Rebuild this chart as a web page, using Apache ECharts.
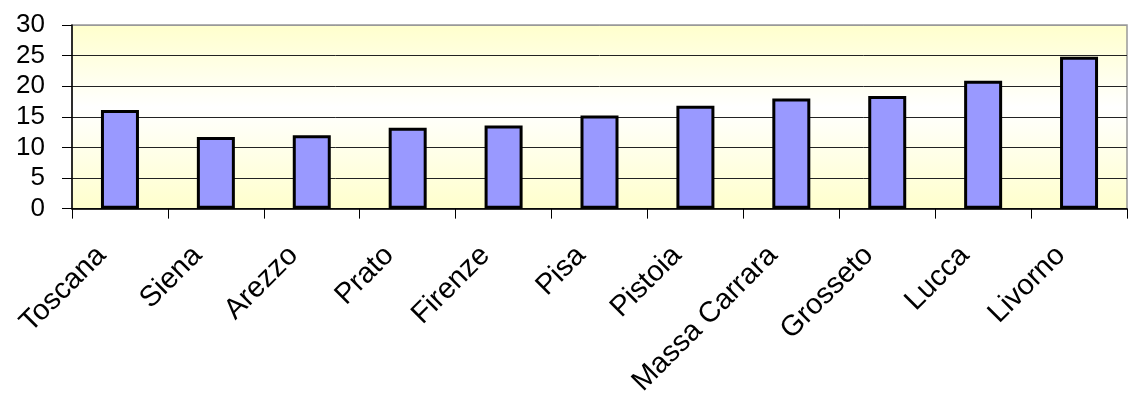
<!DOCTYPE html>
<html>
<head>
<meta charset="utf-8">
<script src="https://cdn.jsdelivr.net/npm/echarts@6/dist/echarts.min.js"></script>
<style>
html,body{margin:0;padding:0;background:#fff;}
#chart{width:1128px;height:399px;}
</style>
</head>
<body>
<div id="chart"></div>
<script>
const categories = ['Toscana','Siena','Arezzo','Prato','Firenze','Pisa','Pistoia','Massa Carrara','Grosseto','Lucca','Livorno'];
const values = [16.1, 11.7, 12.0, 13.2, 13.6, 15.2, 16.8, 18.0, 18.4, 20.9, 24.8];
const yTicks = { min: 0, max: 30, interval: 5 };

const chart = echarts.init(document.getElementById('chart'), null, { renderer: 'canvas' });
const FONT = '"Liberation Sans", Arial, sans-serif';
chart.setOption({
  animation: false,
  grid: {
    left: 72, top: 25, right: 1, bottom: 189,
    show: true,
    borderColor: '#999999',
    borderWidth: 1.5,
    backgroundColor: {
      type: 'linear', x: 0, y: 0, x2: 0, y2: 1,
      colorStops: [
        { offset: 0, color: '#FFFFCC' },
        { offset: 0.45, color: '#FFFFFF' },
        { offset: 1, color: '#FFFFCC' }
      ]
    }
  },
  xAxis: {
    type: 'category',
    data: categories,
    boundaryGap: true,
    axisLine: { show: true, lineStyle: { color: '#000', width: 1.5 } },
    axisTick: { show: true, length: 10, inside: false, alignWithLabel: false, lineStyle: { color: '#000', width: 1 } },
    axisLabel: {
      interval: 0,
      rotate: 45,
      fontSize: 29,
      fontFamily: FONT,
      color: '#000',
      margin: 24,
      padding: [0, 26, 0, 0]
    },
    splitLine: { show: false }
  },
  yAxis: {
    type: 'value',
    min: yTicks.min, max: yTicks.max, interval: yTicks.interval,
    axisLine: { show: true, lineStyle: { color: '#000', width: 1.5 } },
    axisTick: { show: true, length: 10, inside: false, lineStyle: { color: '#000', width: 1 } },
    axisLabel: { fontSize: 26, fontFamily: FONT, color: '#000', margin: 27 },
    splitLine: { show: true, lineStyle: { color: ['#222','#222','#222','#222','#222','#222','#999999'], width: 1 } }
  },
  series: [{
    type: 'bar',
    data: values,
    barWidth: 38,
    itemStyle: { color: '#9999FF', borderColor: '#000', borderWidth: 3 }
  }]
});
</script>
</body>
</html>
